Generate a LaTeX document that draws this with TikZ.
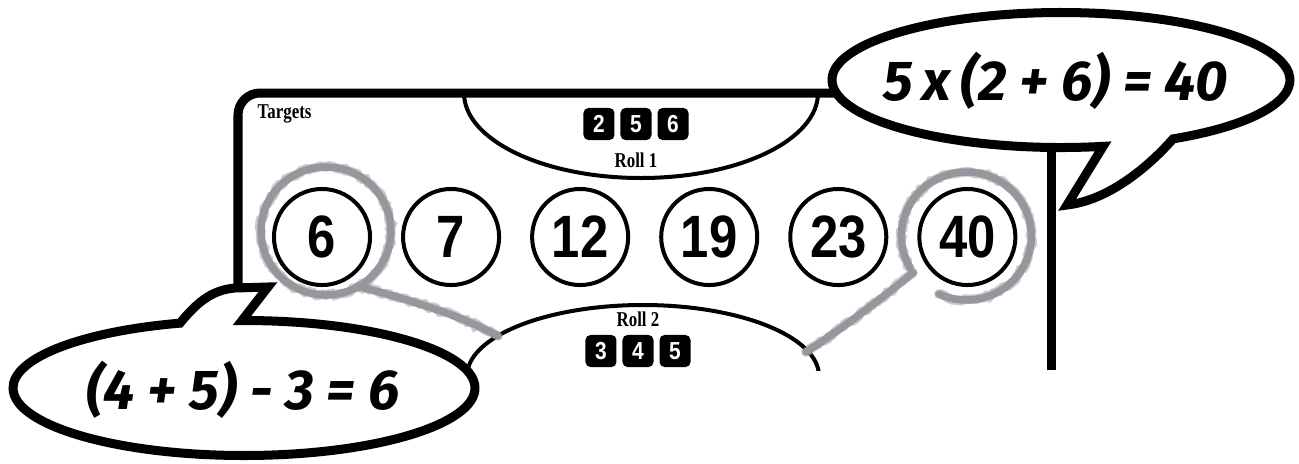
\documentclass[tikz,border=0pt]{standalone}
\usepackage{fontspec}
\newfontfamily\numfont{Liberation Sans}[FakeStretch=0.85]
\newfontfamily\labelfont{Liberation Serif}[FakeStretch=0.8]
\newfontfamily\handfont{Fira Sans}
\usepackage{tikz}
\usetikzlibrary{positioning}
\usetikzlibrary{calc}
\usetikzlibrary{decorations.pathmorphing}

\definecolor{chalk}{RGB}{150,151,156}

\tikzset{
    board/.style={line width=0.09cm},
    bubble/.style={line width=0.09cm, fill=white, line join=miter},
    target/.style={draw, circle, line width=0.04cm, minimum size=0.96cm, inner sep=0pt, font=\numfont\bfseries\fontsize{17}{17}\selectfont},
    die/.style={fill=black, rounded corners=0.05cm, minimum width=0.31cm, minimum height=0.32cm, inner sep=0pt, outer sep=0pt, text=white, font=\numfont\bfseries\fontsize{7}{7}\selectfont},
    rollarc/.style={line width=0.04cm},
    rolltext/.style={font=\labelfont\bfseries\fontsize{6}{6}\selectfont, inner sep=0pt},
    chalkmark/.style={draw=chalk, line width=0.075cm, line cap=round,
        postaction={draw=chalk, opacity=0.5, line width=0.095cm, decorate, decoration={random steps, segment length=1pt, amplitude=0.4pt}}},
    sumtext/.style={font=\handfont\bfseries\itshape\fontsize{16}{16}\selectfont},
}

\begin{document}
\begin{tikzpicture}[x=0.01cm, y=-0.01cm]
    \useasboundingbox (0,0) rectangle (1299,463);

    \begin{scope}
        \clip (0,0) rectangle (1299,370);
        \draw[board, rounded corners=0.22cm] (238,330) |- (845,93);
        \draw[board] (1051,120) -- (1051,370);

        \draw[rollarc] (464,93) arc[start angle=180, end angle=0, x radius=177, y radius=85];
        \draw[rollarc] (643,376) ellipse[x radius=176, y radius=71];
    \end{scope}

    \node[rolltext, anchor=north west] (targets) at (257,104) {Targets};

    % roll 1
    \node[die] (r1b) at (636,124) {5};
    \node[die, left=0.06cm of r1b] (r1a) {2};
    \node[die, right=0.06cm of r1b] (r1c) {6};
    \node[rolltext, below=0.12cm of r1b] (roll1) {Roll 1};

    % roll 2
    \node[die] (r2b) at (638,351) {4};
    \node[die, left=0.06cm of r2b] (r2a) {3};
    \node[die, right=0.06cm of r2b] (r2c) {5};
    \node[rolltext, above=0.08cm of r2b] (roll2) {Roll 2};

    % targets
    \node[target] (t6) at (322,237) {6};
    \node[target, right=0.29cm of t6] (t7) {7};
    \node[target, right=0.29cm of t7] (t12) {12};
    \node[target, right=0.29cm of t12] (t19) {19};
    \node[target, right=0.29cm of t19] (t23) {23};
    \node[target, right=0.29cm of t23] (t40) {40};

    % chalk rings
    \coordinate (m6) at ($(t6)+(4,-6)$);
    \coordinate (m40) at ($(t40)+(-1,-1)$);
    \coordinate (end6) at (498,336);
    \coordinate (end40) at (806,352);
    \draw[chalkmark] (m6) ellipse[x radius=65, y radius=64];
    \draw[chalkmark] ($(m6)+(60:65 and 64)$) .. controls (410,300) and (460,315) .. (end6);
    \draw[chalkmark] ($(m40)+(150:65 and 64)$) arc[start angle=150, end angle=475, x radius=65, y radius=64];
    \draw[chalkmark] ($(m40)+(145:65 and 64)$) .. controls (880,300) and (840,330) .. (end40);

    % speech bubbles
    \coordinate (rb) at (1061,80);
    \draw[bubble] (rb) ++(79.4:229 and 67.5) arc[start angle=79.4, end angle=420.7, x radius=229, y radius=67.5]
        .. controls (1150,165) and (1110,200) .. (1067,205) -- cycle;
    \node[sumtext] (sum40) at (1056,81) {5\,x\,(2 + 6) = 40};

    \coordinate (lb) at (244,388);
    \draw[bubble] (lb) ++(269.5:231 and 67.5) arc[start angle=269.5, end angle=613.9, x radius=231, y radius=67.5]
        .. controls (195,305) and (210,290) .. (235,288) -- (268,287) -- cycle;
    \node[sumtext] (sum6) at (243,390) {(4 + 5) - 3 = 6};
\end{tikzpicture}
\end{document}
